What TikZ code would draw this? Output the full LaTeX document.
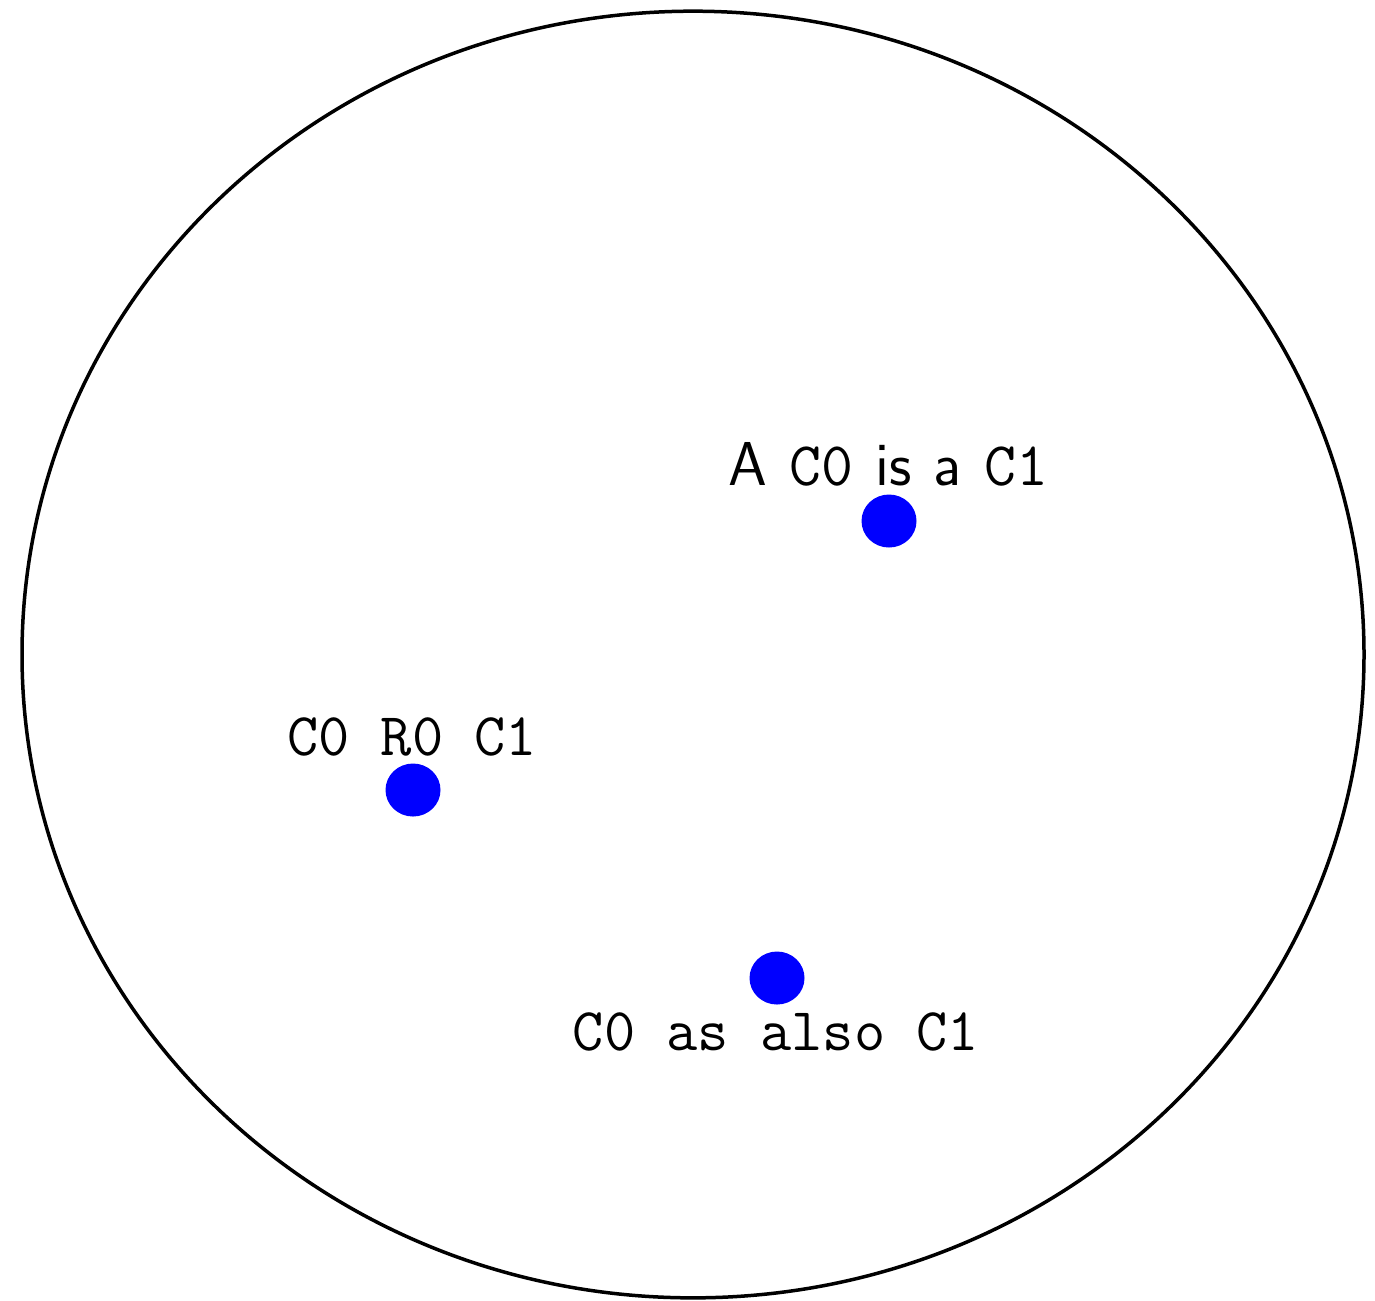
\documentclass[tikz,border=0pt]{standalone}
\usetikzlibrary{shapes.geometric}
\begin{document}
\begin{tikzpicture}[x=0.3pt,y=-0.3pt,
  dot/.style={ellipse,fill=blue,inner sep=0pt,minimum width=16.5pt,minimum height=15.9pt},
  lbl/.style={anchor=base,inner sep=0pt,font=\fontsize{18.2}{21}\selectfont\ttfamily}]
\useasboundingbox (0,0) rectangle (1375,1300);
\draw[line width=1.05pt] (693,654.5) ellipse [x radius=201.3pt, y radius=193pt];
\node[dot] (d1) at (889,521) {};
\node[dot] (d2) at (413,790) {};
\node[dot] (d3) at (777,978) {};
\node[lbl,font=\fontsize{18.6}{21}\selectfont\sffamily] (l1) at (888,485) {\spaceskip=0.36em A \texttt{C0} is a \texttt{C1}};
\node[lbl] (l2) at (412,755) {C0 R0 C1};
\node[lbl] (l3) at (776,1050) {C0 as also C1};
\end{tikzpicture}
\end{document}
